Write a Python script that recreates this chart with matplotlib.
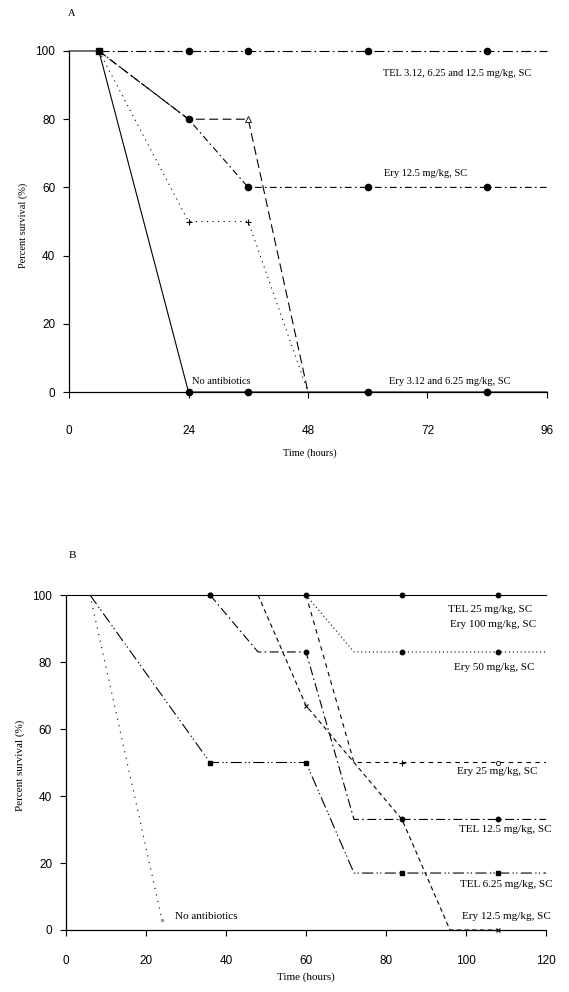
import matplotlib.pyplot as plt

plt.rcParams['font.family'] = 'Liberation Serif'

# panel A - hours after infection vs percent survival
a_tel_x = [6, 24, 36, 60, 84, 96]
a_tel_y = [100, 100, 100, 100, 100, 100]
a_ery125_x = [6, 24, 36, 60, 84, 96]
a_ery125_y = [100, 80, 60, 60, 60, 60]
a_ery625_x = [6, 24, 36, 48]
a_ery625_y = [100, 80, 80, 0]
a_ery312_x = [6, 24, 36, 48]
a_ery312_y = [100, 50, 50, 0]
a_none_x = [0, 6, 24, 36, 60, 84, 96]
a_none_y = [100, 100, 0, 0, 0, 0, 0]
a_xticks = [0, 24, 48, 72, 96]
yticks = [0, 20, 40, 60, 80, 100]

# panel B
b_tel25_x = [0, 36, 60, 84, 108, 120]
b_tel25_y = [100, 100, 100, 100, 100, 100]
b_ery50_x = [60, 72, 84, 108, 120]
b_ery50_y = [100, 83, 83, 83, 83]
b_ery25_x = [60, 72, 84, 108, 120]
b_ery25_y = [100, 50, 50, 50, 50]
b_tel125_x = [36, 48, 60, 72, 84, 108, 120]
b_tel125_y = [100, 83, 83, 33, 33, 33, 33]
b_tel625_x = [6, 36, 60, 72, 84, 108, 120]
b_tel625_y = [100, 50, 50, 17, 17, 17, 17]
b_ery125_x = [48, 60, 84, 96, 108]
b_ery125_y = [100, 67, 33, 0, 0]
b_none_x = [6, 24]
b_none_y = [100, 3]
b_xticks = [0, 20, 40, 60, 80, 100, 120]

fig = plt.figure(figsize=(5.69, 9.92), dpi=100)
axA = fig.add_axes([0.1213, 0.6048, 0.840, 0.3438])
axB = fig.add_axes([0.116, 0.0625, 0.8436, 0.3377])

k = 'black'
lw = 0.8

# ---- A ----
axA.plot(a_none_x, a_none_y, '-', color=k, lw=lw, marker='o', ms=4.5,
         markevery=[2, 3, 4, 5], clip_on=False)
axA.plot(a_ery312_x, a_ery312_y, color=k, lw=lw, dashes=(1, 4), marker='+',
         ms=5, mew=0.8, markevery=[1, 2], clip_on=False)
axA.plot(a_ery625_x, a_ery625_y, color=k, lw=lw, dashes=(8, 4), marker='^',
         ms=4, mfc='white', mew=0.6, markevery=[2], clip_on=False)
axA.plot(a_ery125_x, a_ery125_y, color=k, lw=lw, dashes=(6, 3, 1.5, 3),
         marker='o', ms=4.5, markevery=[1, 2, 3, 4], clip_on=False)
axA.plot(a_tel_x, a_tel_y, color=k, lw=lw, dashes=(9, 3, 1.5, 3),
         marker='o', ms=4.5, markevery=[1, 2, 3, 4], clip_on=False)
axA.plot(a_tel_x[0], a_tel_y[0], 's', color=k, ms=4, clip_on=False)

axA.text(78, 93.5, 'TEL 3.12, 6.25 and 12.5 mg/kg, SC', fontsize=7.5, ha='center', va='center')
axA.text(71.7, 64.2, 'Ery 12.5 mg/kg, SC', fontsize=7.5, ha='center', va='center')
axA.text(30.6, 3.2, 'No antibiotics', fontsize=7.5, ha='center', va='center')
axA.text(76.5, 3.2, 'Ery 3.12 and 6.25 mg/kg, SC', fontsize=7.5, ha='center', va='center')

axA.set_xlim(0, 96)
axA.set_ylim(0, 100)
axA.set_xticks(a_xticks)
axA.tick_params(axis='x', pad=20)

# ---- B ----
axB.plot(b_tel25_x, b_tel25_y, '-', color=k, lw=lw, marker='o', ms=3.2,
         markevery=[1, 2, 3, 4], clip_on=False)
axB.plot(b_ery50_x, b_ery50_y, color=k, lw=lw, dashes=(1, 2.5), marker='o',
         ms=3.2, markevery=[2, 3], clip_on=False)
axB.plot(b_ery25_x, b_ery25_y, color=k, lw=lw, dashes=(4, 4), clip_on=False)
axB.plot(b_ery25_x[2], b_ery25_y[2], '+', color=k, ms=4, mew=0.8, clip_on=False)
axB.plot(b_ery25_x[3], b_ery25_y[3], 'o', color=k, ms=3, mfc='white', mew=0.6, clip_on=False)
axB.plot(b_tel125_x, b_tel125_y, color=k, lw=lw, dashes=(8, 3, 1.5, 3),
         marker='o', ms=3.2, markevery=[0, 2, 4, 5], clip_on=False)
axB.plot(b_tel625_x, b_tel625_y, color=k, lw=lw, dashes=(10, 3, 1.2, 2, 1.2, 3),
         marker='s', ms=3, markevery=[1, 2, 4, 5], clip_on=False)
axB.plot(b_ery125_x, b_ery125_y, color=k, lw=lw, dashes=(4, 3), marker='x',
         ms=3.5, mew=0.8, markevery=[1, 4], clip_on=False)
axB.plot(b_none_x, b_none_y, color=k, lw=lw, dashes=(1, 5), clip_on=False)
axB.plot(b_none_x[-1], b_none_y[-1], '.', color='0.6', ms=3, clip_on=False)

axB.text(106, 95.8, 'TEL 25 mg/kg, SC', fontsize=8, ha='center', va='center')
axB.text(106.8, 91.3, 'Ery 100 mg/kg, SC', fontsize=8, ha='center', va='center')
axB.text(107, 78.5, 'Ery 50 mg/kg, SC', fontsize=8, ha='center', va='center')
axB.text(107.8, 47.2, 'Ery 25 mg/kg, SC', fontsize=8, ha='center', va='center')
axB.text(109.8, 29.9, 'TEL 12.5 mg/kg, SC', fontsize=8, ha='center', va='center')
axB.text(110, 13.7, 'TEL 6.25 mg/kg, SC', fontsize=8, ha='center', va='center')
axB.text(110, 3.9, 'Ery 12.5 mg/kg, SC', fontsize=8, ha='center', va='center')
axB.text(35, 3.9, 'No antibiotics', fontsize=8, ha='center', va='center')

axB.set_xlim(0, 120)
axB.set_ylim(0, 100)
axB.set_xticks(b_xticks)
axB.tick_params(axis='x', pad=14)

for ax in (axA, axB):
    ax.set_yticks(yticks)
    for s in ('top', 'right'):
        ax.spines[s].set_visible(False)
    for s in ('left', 'bottom'):
        ax.spines[s].set_linewidth(0.9)
    ax.tick_params(length=4, width=0.8, labelsize=8.5)
    ax.tick_params(axis='y', pad=6)
    for t in ax.get_xticklabels() + ax.get_yticklabels():
        t.set_family('Liberation Sans')

fig.text(0.545, 1 - 453 / 992, 'Time (hours)', fontsize=7.5, ha='center', va='center')
fig.text(0.538, 1 - 977 / 992, 'Time (hours)', fontsize=8, ha='center', va='center')
fig.text(0.040, 1 - 225 / 992, 'Percent survival (%)', fontsize=7.5, rotation=90,
         ha='center', va='center')
fig.text(0.036, 1 - 765 / 992, 'Percent survival (%)', fontsize=8, rotation=90,
         ha='center', va='center')
fig.text(0.1265, 1 - 14 / 992, 'A', fontsize=7.5, ha='center', va='center')
fig.text(0.1265, 1 - 555 / 992, 'B', fontsize=8, ha='center', va='center')

fig.savefig('out.png', dpi=100)
